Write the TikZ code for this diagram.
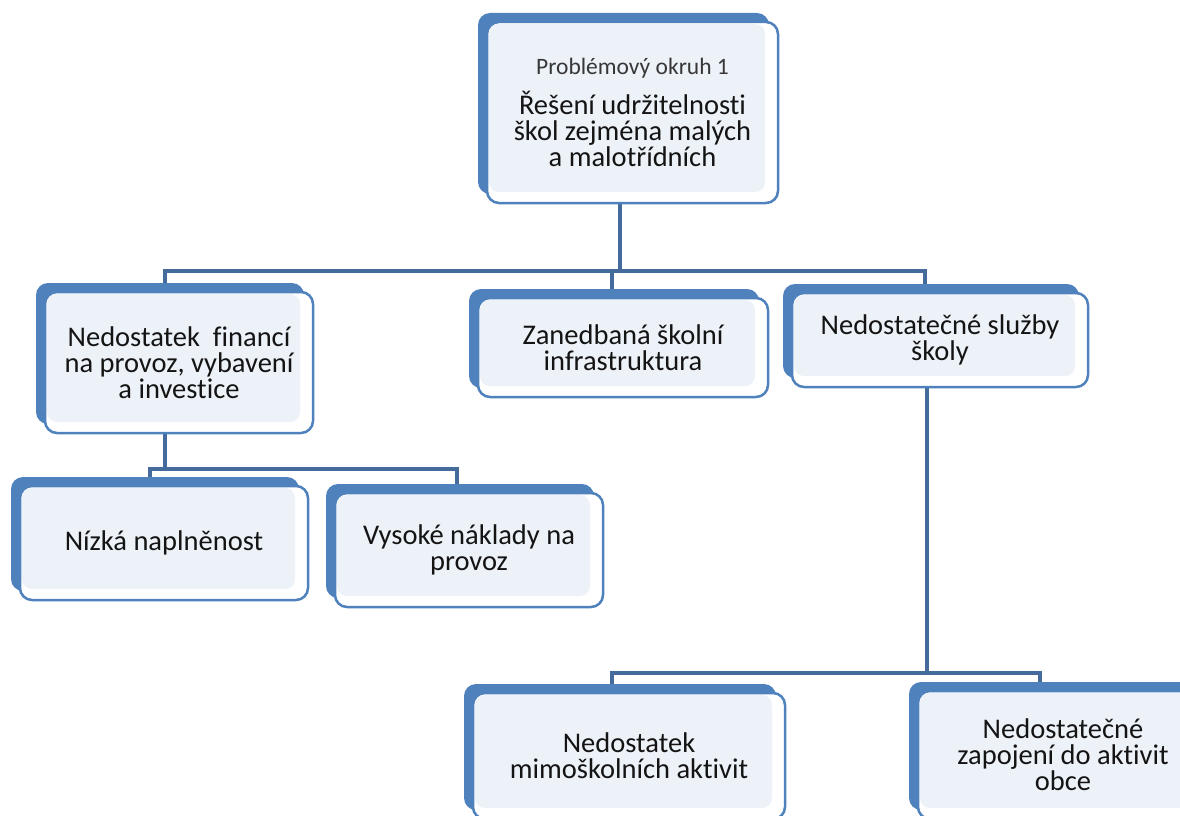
\documentclass[tikz,border=0pt]{standalone}
\usepackage{fontspec}
\setmainfont{Carlito}[Ligatures=CommonOff]
\usepackage{xcolor}
\definecolor{modra}{RGB}{79,129,189}
\definecolor{svetla}{RGB}{237,241,248}
\definecolor{spoj}{RGB}{69,107,156}
\definecolor{pismo}{RGB}{20,20,20}
\usetikzlibrary{shadows, backgrounds, positioning}

\begin{document}
\begin{tikzpicture}[x=1pt, y=-1pt,
    box/.style={draw=modra, line width=2.5pt, fill=white, rounded corners=12pt,
                general shadow={fill=modra, shadow xshift=-9pt, shadow yshift=9pt},
                path picture={\fill[svetla, rounded corners=10pt]
                  ([shift={(2pt,11pt)}]path picture bounding box.south west) rectangle
                  ([shift={(-13pt,-2pt)}]path picture bounding box.north east);},
                align=center, text=pismo, inner sep=0pt,
                font=\fontsize{28.5}{26}\selectfont},
    link/.style={draw=spoj, line width=4pt}
  ]
  \path[use as bounding box, clip] (0,0) rectangle (1180,816);

  % Level 0 (top)
  \node[box, minimum width=291pt, minimum height=181pt] (okruh) at (632.5,112.5)
    {{\fontsize{23.5}{22}\selectfont\color{pismo!85} Problémový okruh 1}\\[12pt]
     Řešení udržitelnosti\\škol zejména malých\\a malotřídních};

  % Level 1
  \node[box, minimum width=268pt, minimum height=141pt] (financi) at (179,362.5)
    {Nedostatek~ financí\\na provoz, vybavení\\a investice};
  \node[box, minimum width=290pt, minimum height=99pt] (infra) at (623,347.5)
    {Zanedbaná školní\\infrastruktura};
  \node[box, minimum width=296pt, minimum height=94pt] (sluzby) at (940,340)
    {Nedostatečné služby\\školy};

  % Level 2
  \node[box, minimum width=288pt, minimum height=114pt] (naplnenost) at (164,543)
    {Nízká naplněnost};
  \node[box, minimum width=268pt, minimum height=114pt] (naklady) at (469,550)
    {Vysoké náklady na\\provoz};
  \node[box, minimum width=312pt, minimum height=126pt] (aktivity) at (629,756)
    {Nedostatek\\mimoškolních aktivit};
  \node[box, minimum width=290pt, minimum height=128pt] (obec) at (1063,755)
    {Nedostatečné\\zapojení do aktivit\\obce};

  % Connectors
  \coordinate (j1) at (620,271);
  \coordinate (j2) at (165,469);
  \coordinate (j3) at (927,673);
  \begin{scope}[on background layer]
    \draw[link] (okruh.south -| j1) -- (j1);
    \draw[link] ([xshift=-14pt]financi.north) |- (j1) -| ([xshift=-15pt]sluzby.north);
    \draw[link] ([xshift=-11pt]infra.north) -- ([xshift=-11pt]infra.north |- j1);
    \draw[link] (financi.south -| j2) -- (j2);
    \draw[link] ([xshift=-14pt]naplnenost.north) |- (j2) -| ([xshift=-12pt]naklady.north);
    \draw[link] (sluzby.south -| j3) -- (j3);
    \draw[link] ([xshift=-17pt]aktivity.north) |- (j3) -| ([xshift=-23pt]obec.north);
  \end{scope}
\end{tikzpicture}
\end{document}
